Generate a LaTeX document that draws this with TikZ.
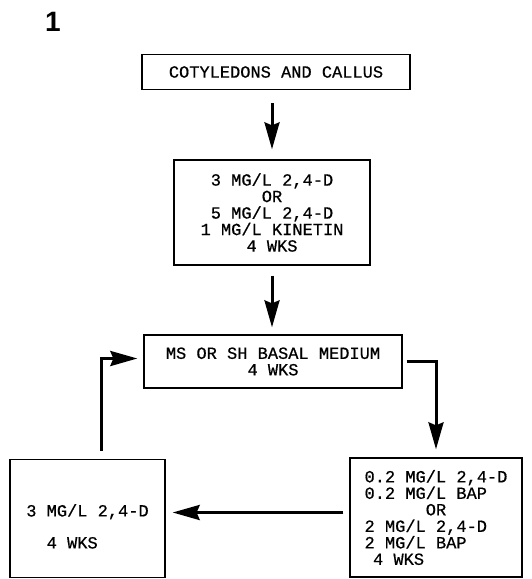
\documentclass[tikz,border=0pt]{standalone}
\usepackage{fontspec}
\setmonofont[FakeBold=0.6]{Liberation Mono}
\newfontfamily\labelfont{Liberation Sans}
\usetikzlibrary{arrows.meta}
\begin{document}
\begin{tikzpicture}[x=1pt,y=-1pt,
    medbox/.style={draw,line width=1.3pt,inner sep=0pt,
      font=\ttfamily\fontsize{17}{16.5}\selectfont},
    flow/.style={line width=3pt,-{Stealth[length=27pt,width=15pt,inset=3pt]}}]
  \useasboundingbox (0,0) rectangle (532,579);
  \node (fig) at (53,22) {\labelfont\bfseries\fontsize{28}{30}\selectfont 1};
  % boxes
  \node [medbox,minimum width=268pt,minimum height=35pt] (cot) at (276,72)
    {COTYLEDONS AND CALLUS};
  \node [medbox,align=center,minimum width=196pt,minimum height=105pt] (auxin) at (272,212.5)
    {3 MG/L 2,4-D\\OR\\5 MG/L 2,4-D\\1 MG/L KINETIN\\4 WKS};
  \node [medbox,align=center,minimum width=258pt,minimum height=53pt] (basal) at (273,361.5)
    {MS OR SH BASAL MEDIUM\\4 WKS};
  \node [medbox,align=left,minimum width=172pt,minimum height=119pt] (bap) at (436,517.5)
    {0.2 MG/L 2,4-D\\0.2 MG/L BAP\\\hspace*{3.6em}OR\\2 MG/L 2,4-D\\2 MG/L BAP\\\hspace*{0.5em}4 WKS};
  \node [medbox,align=left,minimum width=155pt,minimum height=118pt] (dmed) at (87.5,518.5)
    {\rule{0pt}{28pt}3 MG/L 2,4-D\\[15.5pt]\hspace*{1.2em}4 WKS};
  % arrows
  \draw [flow,shorten <=13pt,shorten >=10pt] (cot.south -| auxin.north) -- (auxin.north);
  \draw [flow,shorten <=10pt,shorten >=7pt] (auxin.south) -- (basal.north -| auxin.south);
  \draw [flow,shorten <=4pt,shorten >=8pt] (basal.east) -| (bap.north);
  \draw [flow,shorten <=6pt,shorten >=7pt] ([yshift=5pt]bap.west) -- ([yshift=5pt]bap.west -| dmed.east);
  \draw [flow,shorten <=8pt,shorten >=6pt] ([xshift=14pt]dmed.north) |- ([yshift=3pt]basal.west);
\end{tikzpicture}
\end{document}
